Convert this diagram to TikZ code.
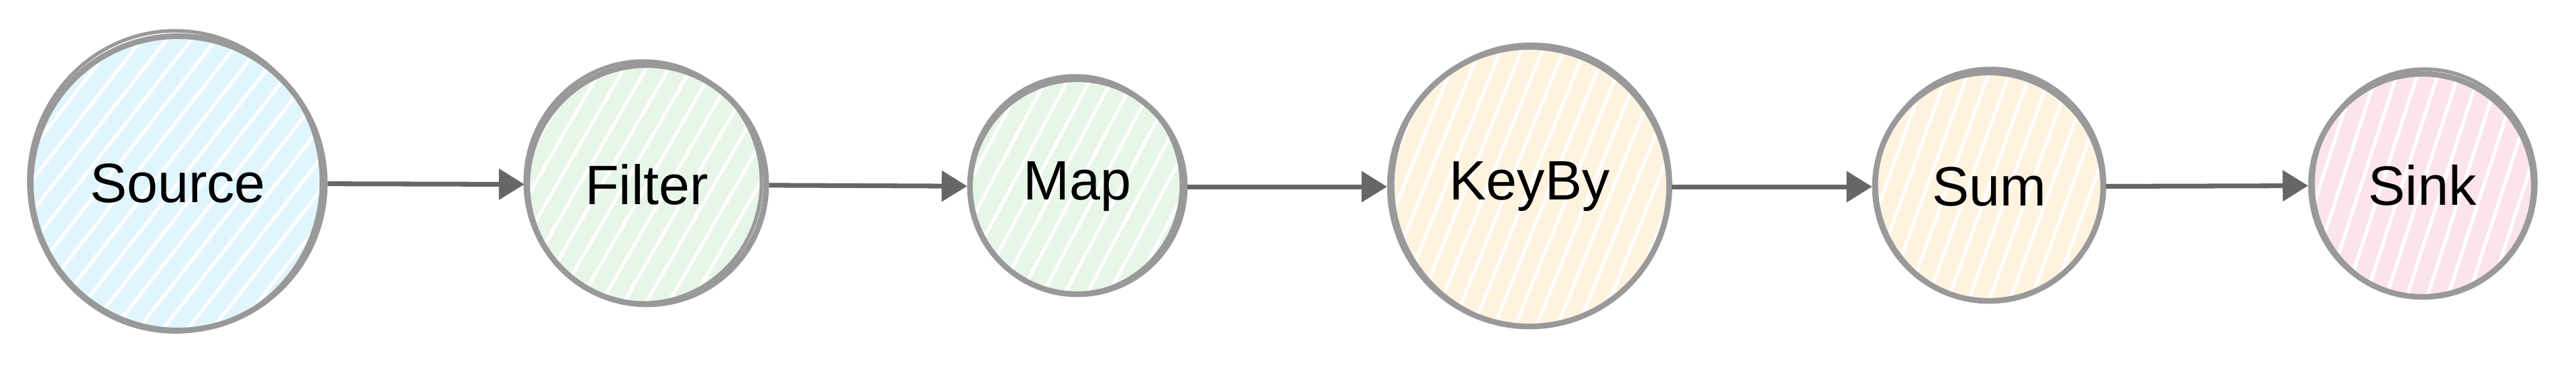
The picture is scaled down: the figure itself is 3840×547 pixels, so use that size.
\documentclass[tikz,border=0pt]{standalone}
\usepackage{fontspec}
\setmainfont{Liberation Sans}
\usetikzlibrary{arrows.meta,calc}
\definecolor{rim}{HTML}{999999}
\definecolor{arr}{HTML}{666666}
\definecolor{fblue}{HTML}{E1F5FE}
\definecolor{fgreen}{HTML}{E8F5E9}
\definecolor{forange}{HTML}{FFF3E0}
\definecolor{fpink}{HTML}{FCE4EC}
\tikzset{
  op/.style={circle, draw=rim, line width=2.4pt, fill=#1, inner sep=0pt,
    font=\fontsize{23.5}{28}\selectfont, text=black},
  hatch/.style={path picture={
    \foreach \k in {-20,...,20}{
      \draw[white, line width=1.5pt]
        ($(path picture bounding box.center)+(#1-90:\k*0.29cm)+(#1:5cm)$) --
        ($(path picture bounding box.center)+(#1-90:\k*0.29cm)+(#1+180:5cm)$);
    }}},
  rough/.style={draw=rim, line width=1.5pt},
  flow/.style={draw=arr, line width=2pt, -{Triangle[length=0.38cm,width=0.45cm]}}
}
\begin{document}
\begin{tikzpicture}[x=0.01cm,y=-0.01cm]
\useasboundingbox (0,0) rectangle (3840,547);
\node[op=fblue, hatch=52, minimum size=4.38cm] (src) at (265,273) {Source};
\node[op=fgreen, hatch=60, minimum size=3.56cm] (fil) at (964,275) {Filter};
\node[op=fgreen, hatch=62, minimum size=3.20cm] (map) at (1606,278) {Map};
\node[op=forange, hatch=68, minimum size=4.16cm] (key) at (2280,278) {KeyBy};
\node[op=forange, hatch=70, minimum size=3.40cm] (sum) at (2965,278) {Sum};
\node[op=fpink, hatch=72, minimum size=3.32cm] (snk) at (3611,276) {Sink};
% sketchy second strokes
\draw[rough] ($(src.center)+(-4,-3)$) ellipse [x radius=2.18cm, y radius=2.24cm];
\draw[rough] ($(fil.center)+(-5,-4)$) ellipse [x radius=1.76cm, y radius=1.80cm];
\draw[rough] ($(map.center)+(-3,-3)$) ellipse [x radius=1.58cm, y radius=1.62cm];
\draw[rough] ($(key.center)+(3,-2)$) ellipse [x radius=2.07cm, y radius=2.10cm];
\draw[rough] ($(sum.center)+(2,-3)$) ellipse [x radius=1.70cm, y radius=1.73cm];
\draw[rough] ($(snk.center)+(3,-3)$) ellipse [x radius=1.66cm, y radius=1.70cm];
% connectors
\draw[flow] (src) -- (fil);
\draw[flow] (fil) -- (map);
\draw[flow] (map) -- (key);
\draw[flow] (key) -- (sum);
\draw[flow] (sum) -- (snk);
\end{tikzpicture}
\end{document}
